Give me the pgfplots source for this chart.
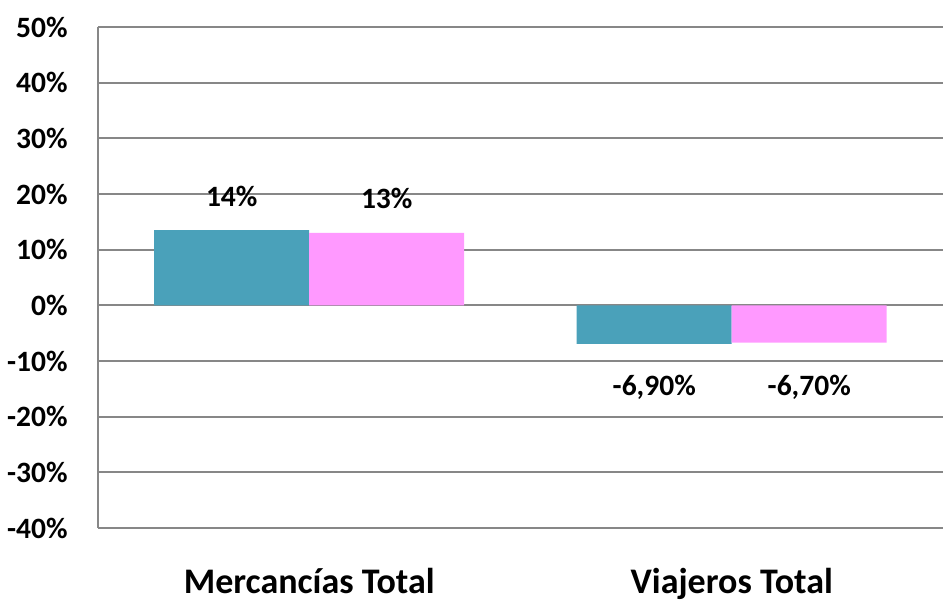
\documentclass[border=0pt]{standalone}
\usepackage{pgfplots}
\pgfplotsset{compat=1.18}
\usepackage{pgfplotstable}
\usepackage{fontspec}
\setmainfont{Carlito}
\definecolor{teal1}{HTML}{4AA1BA}
\definecolor{pink1}{HTML}{FF99FF}
\definecolor{grid1}{HTML}{878787}
\pgfplotstableread{
x y lab dy
0 13.5 {14\%} 12
1 -6.9 {-6,90\%} -25.8
}\seriesA
\pgfplotstableread{
x y lab dy
0 13.0 {13\%} 12
1 -6.7 {-6,70\%} -26.3
}\seriesB
\begin{document}
\begin{tikzpicture}
\path[use as bounding box] (-49pt,-37pt) rectangle (423pt,264pt);
\begin{axis}[
  at={(0,0)}, anchor=south west,
  scale only axis, width=422.5pt, height=250.5pt,
  ybar=0pt, bar width=77.5pt,
  xmin=-0.5, xmax=1.5, ymin=-40, ymax=50,
  xtick={0,1}, xticklabels={Mercancías Total, Viajeros Total},
  ytick={-40,-30,...,50},
  yticklabels={-40\%,-30\%,-20\%,-10\%,0\%,10\%,20\%,30\%,40\%,50\%},
  major tick length=0pt,
  ymajorgrids, grid style={grid1, line width=1pt},
  axis x line*=bottom, axis y line*=left,
  x axis line style={draw=none},
  y axis line style={grid1, line width=1pt},
  yticklabel style={font=\fontsize{14.75}{16}\selectfont\bfseries, inner sep=0pt, xshift=-15pt, anchor=east},
  xticklabel style={font=\fontsize{18}{20}\selectfont\bfseries, inner sep=0pt, yshift=-20pt, anchor=north},
  nodes near coords, point meta=explicit symbolic,
  visualization depends on={\thisrow{dy} \as \mydy},
  every node near coord/.append style={anchor=base, inner sep=0pt, yshift=\mydy pt, font=\fontsize{14.75}{16}\selectfont\bfseries, text=black},
]
\addplot[fill=teal1, draw=none] table[x=x, y=y, meta=lab] {\seriesA};
\addplot[fill=pink1, draw=none] table[x=x, y=y, meta=lab] {\seriesB};
\end{axis}
\end{tikzpicture}
\end{document}
